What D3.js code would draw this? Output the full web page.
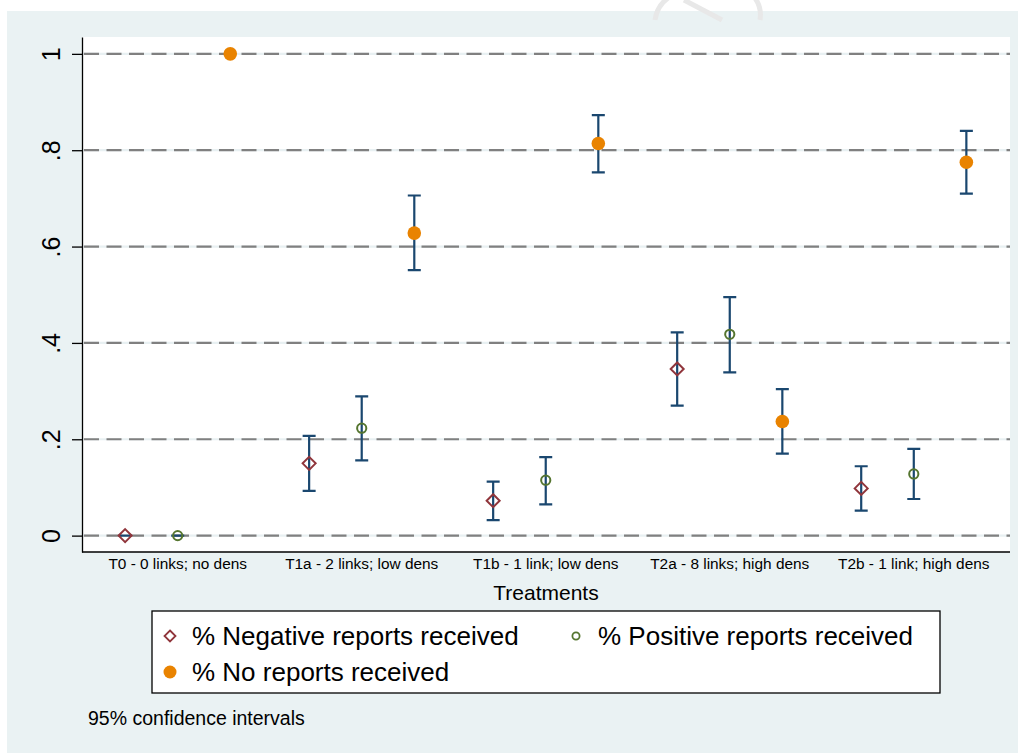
<!DOCTYPE html>
<html lang="en">
<head>
    <meta charset="UTF-8">
    <title>Reports received by treatment</title>
    <script src="https://d3js.org/d3.v7.min.js"></script>
    <style>
        body { margin: 0; background: #fff; }
        svg { display: block; font-family: "Liberation Sans", Arial, Helvetica, sans-serif; }
    </style>
</head>
<body>
    <div id="chart"></div>

    <script>
        // treatments (x categories)
        const treatments = ["T0 - 0 links; no dens", "T1a - 2 links; low dens", "T1b - 1 link; low dens",
            "T2a - 8 links; high dens", "T2b - 1 link; high dens"];

        // share of negative reports received, with 95% CI
        const negMean = [0, 0.150, 0.0725, 0.346, 0.098];
        const negLo   = [0, 0.093, 0.032, 0.270, 0.052];
        const negHi   = [0, 0.207, 0.112, 0.422, 0.144];

        // share of positive reports received
        const posMean = [0, 0.223, 0.115, 0.418, 0.128];
        const posLo   = [0, 0.156, 0.065, 0.339, 0.076];
        const posHi   = [0, 0.289, 0.163, 0.495, 0.180];

        // share with no reports received (T0 has no interval)
        const noneMean = [1, 0.628, 0.814, 0.237, 0.775];
        const noneLo   = [null, 0.551, 0.754, 0.170, 0.710];
        const noneHi   = [null, 0.706, 0.873, 0.304, 0.840];

        const yTicks = [0, 0.2, 0.4, 0.6, 0.8, 1];
        const seriesNames = ["% Negative reports received", "% Positive reports received", "% No reports received"];

        const W = 1024, H = 753;
        const plot = { left: 82, right: 1010, top: 37, bottom: 552 };

        const svg = d3.select("#chart").append("svg")
            .attr("width", W).attr("height", H);

        // outer background
        svg.append("rect").attr("x", 7).attr("y", 11)
            .attr("width", 1011).attr("height", H - 11)
            .attr("fill", "#eaf2f3");

        // faint watermark at the top edge
        const wm = svg.append("g").attr("fill", "none").attr("stroke", "#e8e8e8").attr("stroke-width", 5);
        wm.append("path").attr("d", "M668,-2 Q657,6 655,20");
        wm.append("path").attr("d", "M684,0 L722,20");
        wm.append("path").attr("d", "M755,-2 Q762,8 760,20");

        // plot region
        svg.append("rect").attr("x", plot.left).attr("y", plot.top)
            .attr("width", plot.right - plot.left).attr("height", plot.bottom - plot.top)
            .attr("fill", "#fff");

        // position: group g, series s -> g*3.5 + s
        const x = d3.scaleLinear().domain([-0.82, 16.83]).range([plot.left, plot.right]);
        const y = d3.scaleLinear().domain([-0.034, 1.035]).range([plot.bottom, plot.top]);
        const xpos = (g, s) => x(g * 3.5 + s);

        // gridlines
        const grid = svg.append("g");
        grid.selectAll("line.under").data(yTicks).enter().append("line")
            .attr("x1", plot.left).attr("x2", plot.right)
            .attr("y1", d => y(d)).attr("y2", d => y(d))
            .attr("stroke", "#e8f0f2").attr("stroke-width", 2.2);
        grid.selectAll("line.dash").data(yTicks).enter().append("line")
            .attr("x1", plot.left + 2).attr("x2", plot.right)
            .attr("y1", d => y(d)).attr("y2", d => y(d))
            .attr("stroke", "#808080").attr("stroke-width", 2.2)
            .attr("stroke-dasharray", "15 7.5");

        // y axis
        const fmt = d => (d === 0 || d === 1) ? String(d) : d3.format(".1f")(d).replace(/^0/, "");
        const yAxis = svg.append("g")
            .attr("transform", `translate(${plot.left},0)`)
            .call(d3.axisLeft(y).tickValues(yTicks).tickFormat(fmt).tickSize(10).tickSizeOuter(0));
        yAxis.select(".domain").attr("stroke", "#000").attr("stroke-width", 1.3);
        yAxis.selectAll(".tick line").attr("stroke", "#000").attr("stroke-width", 1.3);
        yAxis.selectAll(".tick text")
            .attr("x", null).attr("dy", null)
            .attr("transform", "translate(-22,0) rotate(-90)")
            .attr("text-anchor", "middle")
            .attr("font-size", 25).attr("fill", "#000")
            .attr("font-family", "'Liberation Sans', Arial, sans-serif");

        // x axis
        svg.append("line")
            .attr("x1", plot.left).attr("x2", plot.right)
            .attr("y1", plot.bottom).attr("y2", plot.bottom)
            .attr("stroke", "#000").attr("stroke-width", 1.3);
        svg.append("g").selectAll("text").data(treatments).enter().append("text")
            .attr("x", (d, i) => xpos(i, 1))
            .attr("y", 569)
            .attr("text-anchor", "middle")
            .attr("font-size", 15.4)
            .text(d => d);
        svg.append("text")
            .attr("x", (plot.left + plot.right) / 2).attr("y", 600)
            .attr("text-anchor", "middle").attr("font-size", 21)
            .text("Treatments");

        // series table
        const series = [
            { mean: negMean, lo: negLo, hi: negHi, s: 0 },
            { mean: posMean, lo: posLo, hi: posHi, s: 1 },
            { mean: noneMean, lo: noneLo, hi: noneHi, s: 2 }
        ];
        const barColor = "#1a476f", red = "#90353b", green = "#55752f", orange = "#e98300";

        // error bars
        const bars = [];
        series.forEach(sr => sr.mean.forEach((m, g) => {
            if (sr.lo[g] !== null) bars.push({ g: g, s: sr.s, lo: sr.lo[g], hi: sr.hi[g] });
        }));
        const eb = svg.append("g").attr("stroke", barColor).attr("stroke-width", 2.2).attr("fill", "none");
        eb.selectAll("path").data(bars).enter().append("path")
            .attr("d", d => {
                const cx = xpos(d.g, d.s), y0 = y(d.lo), y1 = y(d.hi), c = 6.5;
                return `M${cx},${y0}V${y1}M${cx - c},${y1}H${cx + c}M${cx - c},${y0}H${cx + c}`;
            });

        // markers
        const diamond = (cx, cy, r) => `M${cx},${cy - r}L${cx + r},${cy}L${cx},${cy + r}L${cx - r},${cy}Z`;
        svg.append("g").selectAll("path").data(negMean).enter().append("path")
            .attr("d", (d, g) => diamond(xpos(g, 0), y(d), 6.5))
            .attr("fill", "none").attr("stroke", red).attr("stroke-width", 2);
        svg.append("g").selectAll("circle").data(posMean).enter().append("circle")
            .attr("cx", (d, g) => xpos(g, 1)).attr("cy", d => y(d)).attr("r", 4.6)
            .attr("fill", "none").attr("stroke", green).attr("stroke-width", 2);
        svg.append("g").selectAll("circle").data(noneMean).enter().append("circle")
            .attr("cx", (d, g) => xpos(g, 2)).attr("cy", d => y(d)).attr("r", 6.8)
            .attr("fill", orange);

        // legend
        const lg = svg.append("g");
        lg.append("rect").attr("x", 152).attr("y", 611).attr("width", 788).attr("height", 82)
            .attr("fill", "#fff").attr("stroke", "#000").attr("stroke-width", 1.3);
        const legendItems = [
            { x: 170, y: 636, name: seriesNames[0], kind: "diamond" },
            { x: 576, y: 636, name: seriesNames[1], kind: "circle" },
            { x: 170, y: 672, name: seriesNames[2], kind: "dot" }
        ];
        legendItems.forEach(it => {
            if (it.kind === "diamond") {
                lg.append("path").attr("d", diamond(it.x, it.y, 5.5))
                    .attr("fill", "none").attr("stroke", red).attr("stroke-width", 1.8);
            } else if (it.kind === "circle") {
                lg.append("circle").attr("cx", it.x).attr("cy", it.y).attr("r", 3.6)
                    .attr("fill", "none").attr("stroke", green).attr("stroke-width", 1.8);
            } else {
                lg.append("circle").attr("cx", it.x).attr("cy", it.y).attr("r", 6.5)
                    .attr("fill", orange);
            }
            lg.append("text").attr("x", it.x + 22).attr("y", it.y + 9)
                .attr("font-size", 26).text(it.name);
        });

        // note
        svg.append("text").attr("x", 88).attr("y", 725)
            .attr("font-size", 19.5).text("95% confidence intervals");
    </script>
</body>
</html>
